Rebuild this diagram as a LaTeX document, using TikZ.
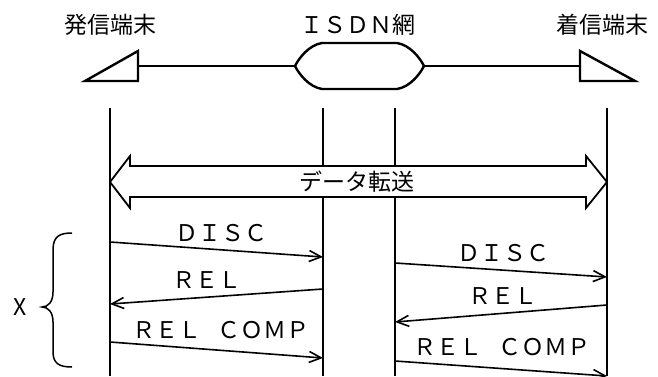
\documentclass[tikz,border=0pt]{standalone}
\usepackage{fontspec}
\newfontfamily\jpfont{Noto Sans CJK JP}
\usetikzlibrary{arrows.meta}

\begin{document}
\begin{tikzpicture}[
  x=1pt,y=1pt,
  lbl/.style={inner sep=0pt,font=\jpfont\fontsize{23}{26}\selectfont},
  life/.style={line width=2.6pt},
  wire/.style={line width=2.4pt},
  msg/.style={line width=1.6pt,-{Straight Barb[length=12pt,width=11pt]}},
  ->,>=Stealth]
  \useasboundingbox (0,0) rectangle (658,376);
  % terminals and network
  \node[lbl](calling) at (110,351){発信端末};
  \node[lbl](isdn) at (358,351){ＩＳＤＮ網};
  \node[lbl](called) at (602,351){着信端末};
  \draw[wire,-] (85,295)--(138,325)--(138,295)--cycle;
  \draw[wire,-] (580,325)--(580,295)--(635,295)--cycle;
  \draw[wire,-] (322,333)--(397,333) .. controls (410,331) and (420,318) .. (424,310)
    .. controls (420,302) and (410,289) .. (397,287)--(322,287)
    .. controls (309,289) and (299,302) .. (295,310)
    .. controls (299,318) and (309,331) .. (322,333)--cycle;
  \coordinate(termA) at (138,310);
  \coordinate(netL) at (295,310);
  \coordinate(netR) at (424,310);
  \coordinate(termB) at (580,310);
  \draw[wire,-](termA)--(netL);
  \draw[wire,-](netR)--(termB);
  % lifelines
  \foreach \n/\x in {a/110,b/323,c/395,d/607}{
    \coordinate(\n top) at (\x,268);
    \coordinate(\n bot) at (\x,0);
    \draw[life,-](\n top)--(\n bot);
  }
  % data transfer
  \draw[line width=1.8pt,fill=white,-] (110,194)--(130,220)--(130,210)--(586,210)--(586,220)
    --(607,194)--(586,168)--(586,179)--(130,179)--(130,168)--cycle;
  \node[lbl](xfer) at (357,194){データ転送};
  % disconnect, calling side
  \coordinate(a1) at (110,134); \coordinate(b1) at (323,119);
  \coordinate(b2) at (323,87);  \coordinate(a2) at (110,72);
  \coordinate(a3) at (110,34);  \coordinate(b3) at (323,18);
  \draw[msg](a1)--(b1);
  \draw[msg](b2)--(a2);
  \draw[msg](a3)--(b3);
  \node[lbl](discA) at (221,143){ＤＩＳＣ};
  \node[lbl](relA) at (207,96){ＲＥＬ};
  \node[lbl](compA) at (221,46){ＲＥＬ\hspace{0.7em}ＣＯＭＰ};
  % disconnect, called side
  \coordinate(c1) at (395,113); \coordinate(d1) at (607,99);
  \coordinate(d2) at (607,71);  \coordinate(c2) at (395,54);
  \coordinate(c3) at (395,15);  \coordinate(d3) at (607,0);
  \draw[msg](c1)--(d1);
  \draw[msg](d2)--(c2);
  \draw[msg](c3)--(d3);
  \node[lbl](discB) at (503,123){ＤＩＳＣ};
  \node[lbl](relB) at (503,80){ＲＥＬ};
  \node[lbl](compB) at (502,29){ＲＥＬ\hspace{0.7em}ＣＯＭＰ};
  % brace
  \draw[line width=1.5pt,-] (72,143) .. controls (60,143) and (53,140) .. (53,126)--(53,84)
    .. controls (53,74) and (48,69) .. (42,69)
    .. controls (48,69) and (53,64) .. (53,54)--(53,24)
    .. controls (53,12) and (60,9) .. (72,9);
  \node[lbl](xlbl) at (20,69){X};
\end{tikzpicture}
\end{document}
